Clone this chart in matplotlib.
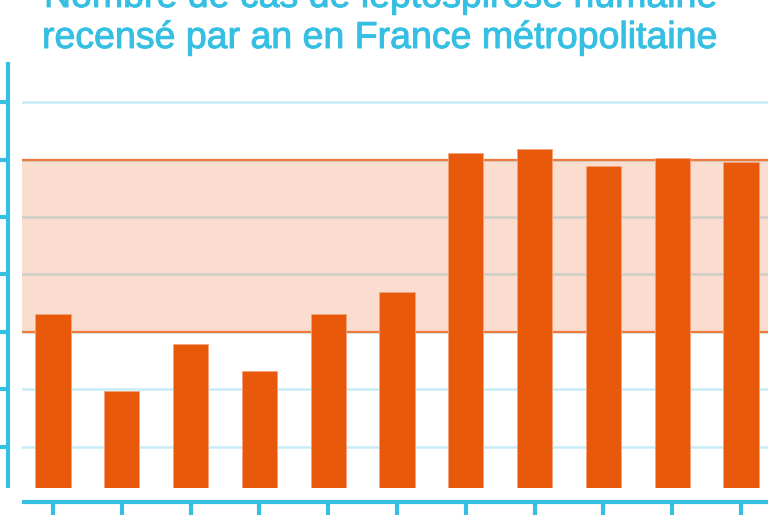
import numpy as np
import matplotlib.pyplot as plt
import matplotlib.patheffects as pe

# cases per year (tick labels cropped out of the reference)
years = ['2007', '2008', '2009', '2010', '2011', '2012',
         '2013', '2014', '2015', '2016', '2017']
cases = [331, 197, 279, 232, 331, 369, 612, 619, 589, 603, 596]
band_low, band_high = 300, 600
y_ticks = [100, 200, 300, 400, 500, 600, 700]

cyan = '#35c0e3'
orange = '#e9590c'

fig = plt.figure(figsize=(7.68, 5.15), dpi=100)
ax = fig.add_axes([22 / 768, 27.3 / 515, 752 / 768, 425.6 / 515])

x = np.arange(len(years))
ax.bar(x, cases, width=0.51, color=orange, edgecolor='#f5a27a',
       linewidth=0.6, zorder=3)

# reference band
ax.axhspan(band_low, band_high, color=orange, alpha=0.2, lw=0, zorder=2)
ax.axhline(band_low, color='#f07a3c', lw=1.6, zorder=2.5)
ax.axhline(band_high, color='#f07a3c', lw=1.6, zorder=2.5)

ax.set_ylim(28.6, 770)
ax.set_xlim(-0.45, 10.48)
ax.set_yticks(y_ticks)
ax.set_xticks(x)
ax.grid(axis='y', color='#c6ecf7', lw=1.8, zorder=1)
ax.set_axisbelow(True)

for s in ['top', 'right']:
    ax.spines[s].set_visible(False)
for s in ['left', 'bottom']:
    ax.spines[s].set_position(('outward', 10))
    ax.spines[s].set_color(cyan)
    ax.spines[s].set_linewidth(3)
    ax.spines[s].set_capstyle('butt')
ax.tick_params(colors=cyan, width=3, length=10, labelleft=False,
               labelbottom=False)

# title, two lines
title_lines = ['Nombre de cas de leptospirose humaine',
               'recensé par an en France métropolitaine']
for line, (tx, ty) in zip(title_lines, [(44, 7), (42, 48)]):
    fig.text(tx / 768, 1 - ty / 515, line, color=cyan, fontsize=27,
             family='Liberation Sans', ha='left', va='baseline',
             path_effects=[pe.withStroke(linewidth=0.7, foreground=cyan)])

plt.savefig('out.png', dpi=100)
